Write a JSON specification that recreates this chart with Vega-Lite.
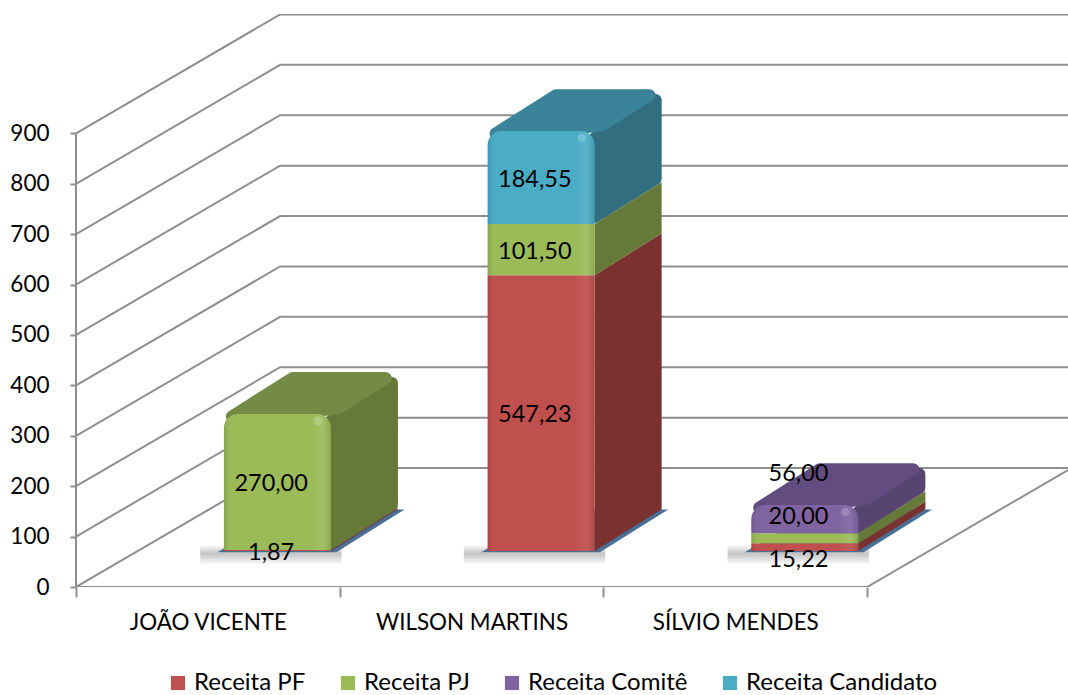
{
"$schema":"https://vega.github.io/schema/vega-lite/v6.json",
"autosize":{"type":"none"},
"padding":{"left":76,"top":14,"right":0,"bottom":108},
"width":992,"height":573,
"background":"white",
"config":{"view":{"stroke":null},"font":"Lato"},
"datasets":{
"bars":[
{"candidate":"JOÃO VICENTE","idx":0,"series":"Receita PF","order":1,"value":1.87},
{"candidate":"JOÃO VICENTE","idx":0,"series":"Receita PJ","order":2,"value":270.00},
{"candidate":"WILSON MARTINS","idx":1,"series":"Receita PF","order":1,"value":547.23},
{"candidate":"WILSON MARTINS","idx":1,"series":"Receita PJ","order":2,"value":101.50},
{"candidate":"WILSON MARTINS","idx":1,"series":"Receita Candidato","order":4,"value":184.55},
{"candidate":"SÍLVIO MENDES","idx":2,"series":"Receita PF","order":1,"value":15.22},
{"candidate":"SÍLVIO MENDES","idx":2,"series":"Receita PJ","order":2,"value":20.00},
{"candidate":"SÍLVIO MENDES","idx":2,"series":"Receita Comitê","order":3,"value":56.00}
],
"ticks":[{"v":0},{"v":100},{"v":200},{"v":300},{"v":400},{"v":500},{"v":600},{"v":700},{"v":800},{"v":900}]
},
"data":{"name":"bars"},
"transform":[
{"stack":"value","groupby":["candidate"],"sort":[{"field":"order","order":"ascending"}],"as":["v0","v1"]},
{"joinaggregate":[{"op":"max","field":"v1","as":"total"}],"groupby":["candidate"]},
{"calculate":"datum.idx+0.561","as":"x0"},
{"calculate":"datum.idx+0.967","as":"x1"},
{"calculate":"71.5+datum.v0","as":"b0"},
{"calculate":"71.5+datum.v1","as":"b1"},
{"calculate":"datum.v1==datum.total","as":"isTop"},
{"calculate":"datum.candidate+datum.series","as":"key"},
{"calculate":"{'Receita PF':'#7A3230','Receita PJ':'#657A38','Receita Comitê':'#574470','Receita Candidato':'#306E80'}[datum.series]","as":"sideColor"},
{"calculate":"{'Receita PF':'#7A3230','Receita PJ':'#748B45','Receita Comitê':'#634C80','Receita Candidato':'#3A8399'}[datum.series]","as":"topColor"}
],
"layer":[
{
"data":{"name":"ticks"},
"transform":[
{"calculate":"[0,1,2]","as":"pt"},{"flatten":["pt"]},
{"calculate":"datum.pt==0?0:(datum.pt==1?0.774:3.762)","as":"gx"},
{"calculate":"datum.v+(datum.pt==0?0:236)","as":"gy"}
],
"mark":{"type":"line","color":"#8E8E8E","strokeWidth":2,"clip":true},
"encoding":{
"x":{"field":"gx","type":"quantitative","scale":{"domain":[0,3.762],"nice":false,"zero":false},
"axis":{"title":null,"grid":false,"domain":false,"values":[0,0.5,1,1.5,2,2.5,3],"tickSize":10,"tickWidth":2,"tickColor":"#8E8E8E","tickOpacity":{"condition":{"test":"datum.value%1!=0","value":0},"value":1},"labelExpr":"datum.value%1==0?'':['JOÃO VICENTE','WILSON MARTINS','SÍLVIO MENDES'][floor(datum.value)]","labelFontSize":22.4,"labelFont":"Lato","labelColor":"#000000","labelPadding":14,"labelLimit":400,"labelOverlap":false,"labelBound":false,"labelFlush":false}},
"y":{"field":"gy","type":"quantitative","scale":{"domain":[0,1136.9],"nice":false,"zero":false},
"axis":{"title":null,"grid":false,"domain":false,"values":[0,100,200,300,400,500,600,700,800,900],"tickSize":6,"tickWidth":2,"tickColor":"#8E8E8E","labelFontSize":22.5,"labelFont":"Lato","labelColor":"#000000","labelPadding":21,"labelOverlap":false,"labelBound":false,"labelFlush":false}},
"detail":{"field":"v"}
}
},
{
"data":{"values":[{"pt":0},{"pt":1},{"pt":2}]},
"transform":[
{"calculate":"datum.pt==0?0:(datum.pt==1?3:3.762)","as":"gx"},
{"calculate":"datum.pt==2?232:0","as":"gy"}
],
"mark":{"type":"line","color":"#8E8E8E","strokeWidth":2,"clip":true},
"encoding":{"x":{"field":"gx","type":"quantitative"},"y":{"field":"gy","type":"quantitative"}}
},
{
"data":{"values":[{"a":0,"b":900}]},
"mark":{"type":"rule","color":"#8E8E8E","strokeWidth":2},
"encoding":{"x":{"datum":0,"type":"quantitative"},"y":{"field":"a","type":"quantitative"},"y2":{"field":"b"}}
},
{
"transform":[
{"filter":"datum.order==1"},
{"calculate":"datum.x0-0.09","as":"rx0"},
{"calculate":"datum.x1+0.04","as":"rx1"}
],
"mark":{"type":"rect","fill":{"gradient":"linear","x1":0,"y1":0,"x2":0,"y2":1,"stops":[{"offset":0,"color":"rgba(60,60,60,0)"},{"offset":0.45,"color":"rgba(60,60,60,0.3)"},{"offset":1,"color":"rgba(60,60,60,0)"}]}},
"encoding":{"x":{"field":"rx0","type":"quantitative"},"x2":{"field":"rx1"},"y":{"datum":44,"type":"quantitative"},"y2":{"datum":84}}
},
{
"transform":[
{"filter":"datum.order==1"},
{"calculate":"[0,1,2,3]","as":"pt"},{"flatten":["pt"]},
{"calculate":"[datum.x0-0.025,datum.x0+0.254,datum.x1+0.02,datum.x1+0.279][datum.pt]","as":"sx"},
{"calculate":"[69,69,69,154][datum.pt]","as":"sy"},
{"calculate":"[69,154,154,154][datum.pt]","as":"sy2"}
],
"mark":{"type":"area","orient":"vertical","color":"#4A6F96"},
"encoding":{"x":{"field":"sx","type":"quantitative"},"y":{"field":"sy","type":"quantitative","stack":null},"y2":{"field":"sy2"},"detail":{"field":"candidate"}}
},
{
"transform":[
{"filter":"datum.isTop"},
{"calculate":"[0,1]","as":"d"},{"flatten":["d"]},
{"calculate":"datum.x1+datum.d*0.2313","as":"sx"},
{"calculate":"datum.b0+13.9+datum.d*75.5","as":"sy"},
{"calculate":"datum.b1-13.9+datum.d*75.5","as":"sy2"}
],
"mark":{"type":"area","orient":"vertical","strokeWidth":12,"strokeJoin":"round"},
"encoding":{"x":{"field":"sx","type":"quantitative"},"y":{"field":"sy","type":"quantitative","stack":null},"y2":{"field":"sy2"},"detail":{"field":"key"},"fill":{"field":"sideColor","scale":null},"stroke":{"field":"sideColor","scale":null}}
},
{
"transform":[
{"filter":"!datum.isTop"},
{"calculate":"[0,1]","as":"d"},{"flatten":["d"]},
{"calculate":"datum.x1+datum.d*0.254","as":"sx"},
{"calculate":"datum.b0+datum.d*83","as":"sy"},
{"calculate":"datum.b1+datum.d*83","as":"sy2"}
],
"mark":{"type":"area","orient":"vertical"},
"encoding":{"x":{"field":"sx","type":"quantitative"},"y":{"field":"sy","type":"quantitative","stack":null},"y2":{"field":"sy2"},"detail":{"field":"key"},"fill":{"field":"sideColor","scale":null}}
},
{
"transform":[
{"filter":"datum.isTop"},
{"calculate":"[0,1,2,3]","as":"pt"},{"flatten":["pt"]},
{"calculate":"[datum.x0+0.03,datum.x0+0.2603,datum.x1+0.03,datum.x1+0.208][datum.pt]","as":"sx"},
{"calculate":"[datum.b1-5,datum.b1,datum.b1+11.9,datum.b1+71.1][datum.pt]","as":"sy"},
{"calculate":"[datum.b1-5,datum.b1+71.1,datum.b1+71.1,datum.b1+71.1][datum.pt]","as":"sy2"}
],
"mark":{"type":"area","orient":"vertical","strokeWidth":12,"strokeJoin":"round"},
"encoding":{"x":{"field":"sx","type":"quantitative"},"y":{"field":"sy","type":"quantitative","stack":null},"y2":{"field":"sy2"},"detail":{"field":"key"},"fill":{"field":"topColor","scale":null},"stroke":{"field":"topColor","scale":null}}
},
{
"transform":[{"filter":"!datum.isTop"}],
"mark":{"type":"rect"},
"encoding":{"x":{"field":"x0","type":"quantitative"},"x2":{"field":"x1"},"y":{"field":"b0","type":"quantitative"},"y2":{"field":"b1"},
"color":{"field":"series","type":"nominal","scale":{"domain":["Receita PF","Receita PJ","Receita Comitê","Receita Candidato"],"range":["#C0504D","#9BBB59","#8064A2","#4BACC6"]},
"legend":{"title":null,"orient":"none","legendX":90,"legendY":657,"direction":"horizontal","columns":4,"symbolType":"square","symbolSize":200,"symbolStrokeWidth":0,"labelFontSize":24,"labelFont":"Lato","labelColor":"#000000","labelLimit":300,"columnPadding":30,"symbolOpacity":1}}}
},
{
"transform":[{"filter":"datum.isTop"}],
"mark":{"type":"rect","cornerRadiusTopLeft":14,"cornerRadiusTopRight":14},
"encoding":{"x":{"field":"x0","type":"quantitative"},"x2":{"field":"x1"},"y":{"field":"b0","type":"quantitative"},"y2":{"field":"b1"},
"color":{"field":"series","type":"nominal"}}
},
{
"transform":[{"filter":"!datum.isTop"}],
"mark":{"type":"rect","fill":{"gradient":"linear","x1":0,"y1":0,"x2":1,"y2":0,"stops":[{"offset":0,"color":"rgba(0,0,0,0.12)"},{"offset":0.05,"color":"rgba(0,0,0,0)"},{"offset":0.82,"color":"rgba(255,255,255,0)"},{"offset":0.92,"color":"rgba(255,255,255,0.08)"},{"offset":1,"color":"rgba(0,0,0,0.1)"}]}},
"encoding":{"x":{"field":"x0","type":"quantitative"},"x2":{"field":"x1"},"y":{"field":"b0","type":"quantitative"},"y2":{"field":"b1"}}
},
{
"transform":[{"filter":"datum.isTop"}],
"mark":{"type":"rect","cornerRadiusTopLeft":14,"cornerRadiusTopRight":14,"fill":{"gradient":"linear","x1":0,"y1":0,"x2":1,"y2":0,"stops":[{"offset":0,"color":"rgba(0,0,0,0.12)"},{"offset":0.05,"color":"rgba(0,0,0,0)"},{"offset":0.82,"color":"rgba(255,255,255,0)"},{"offset":0.92,"color":"rgba(255,255,255,0.08)"},{"offset":1,"color":"rgba(0,0,0,0.1)"}]}},
"encoding":{"x":{"field":"x0","type":"quantitative"},"x2":{"field":"x1"},"y":{"field":"b0","type":"quantitative"},"y2":{"field":"b1"}}
},
{
"transform":[
{"filter":"datum.isTop"},
{"calculate":"datum.x1-0.05","as":"hx"},
{"calculate":"datum.b1-14","as":"hy"}
],
"mark":{"type":"point","filled":true,"color":"#ffffff","opacity":0.2,"size":70},
"encoding":{"x":{"field":"hx","type":"quantitative"},"y":{"field":"hy","type":"quantitative"}}
},
{
"transform":[
{"calculate":"datum.value==15.22?-25:(datum.value==20?42.3:(datum.value==56?89.3:-4))","as":"adj"},
{"calculate":"(datum.b0+datum.b1)/2+datum.adj","as":"ly"},
{"calculate":"datum.idx+0.74","as":"lx"},
{"calculate":"replace(format(datum.value,'.2f'),'.',',')","as":"txt"}
],
"mark":{"type":"text","fontSize":23.5,"font":"Lato","color":"#000000","baseline":"middle","align":"center"},
"encoding":{"x":{"field":"lx","type":"quantitative"},"y":{"field":"ly","type":"quantitative"},"text":{"field":"txt"}}
}
]
}
